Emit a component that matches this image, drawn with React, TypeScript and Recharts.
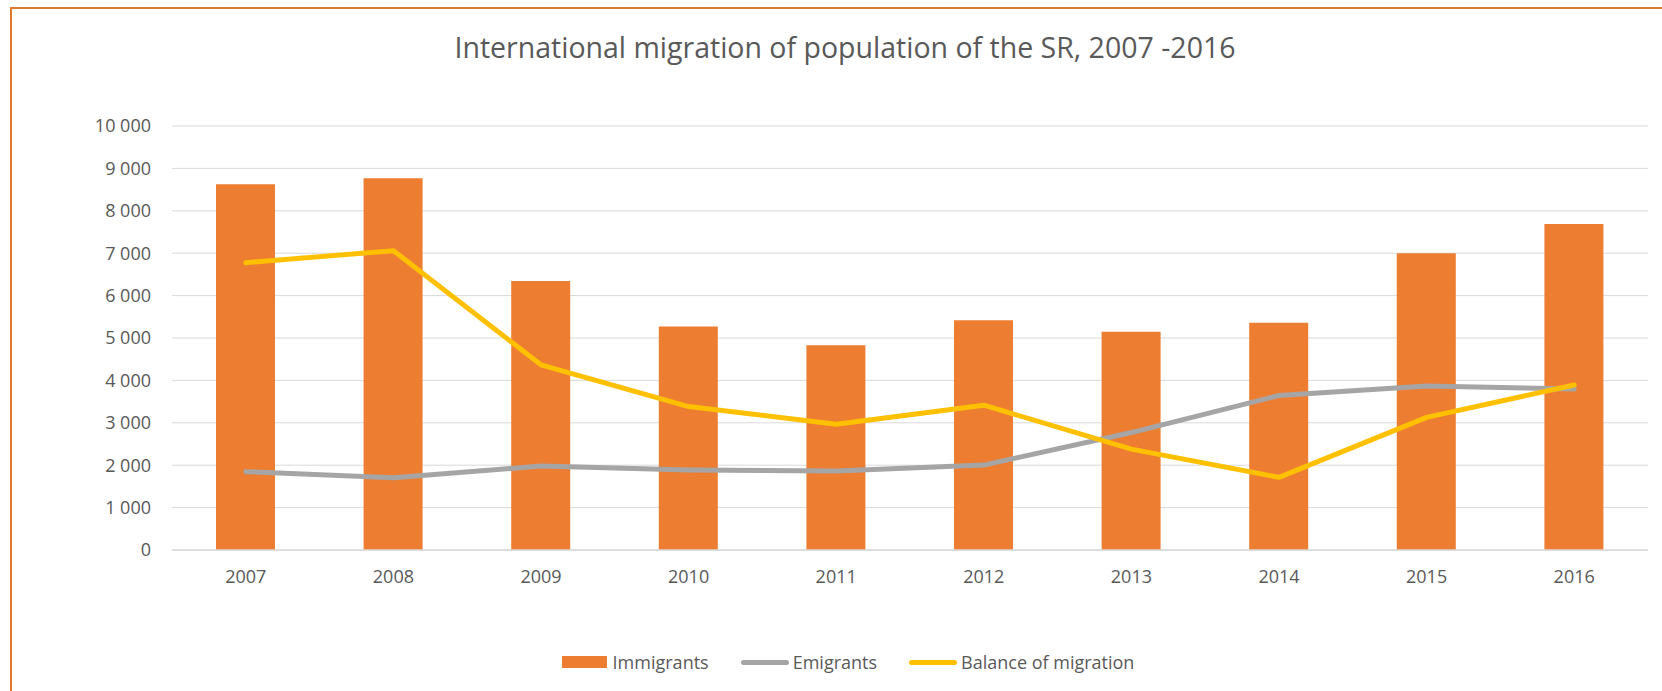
import { ComposedChart, Bar, Line, XAxis, YAxis, CartesianGrid } from 'recharts';

const years = ['2007', '2008', '2009', '2010', '2011', '2012', '2013', '2014', '2015', '2016'];
const immigrants = [8624, 8765, 6346, 5272, 4829, 5419, 5149, 5357, 6997, 7686];
const emigrants = [1848, 1705, 1979, 1889, 1863, 2003, 2770, 3644, 3870, 3795];
const balance = [6776, 7060, 4367, 3383, 2966, 3416, 2379, 1713, 3127, 3891];
const yTicks = [0, 1000, 2000, 3000, 4000, 5000, 6000, 7000, 8000, 9000, 10000];

const TITLE = 'International migration of population of the SR, 2007 -2016';

const series = [
  { key: 'immigrants', name: 'Immigrants', color: '#ED7D31', kind: 'bar' },
  { key: 'emigrants', name: 'Emigrants', color: '#A5A5A5', kind: 'line' },
  { key: 'balance', name: 'Balance of migration', color: '#FFC000', kind: 'line' },
];

const data = years.map((year, i) => ({
  year,
  immigrants: immigrants[i],
  emigrants: emigrants[i],
  balance: balance[i],
}));

const fmt = (v: number) => String(v).replace(/\B(?=(\d{3})+(?!\d))/g, ' ');

const textColor = '#595959';
const gridColor = '#D9D9D9';

function LegendRow() {
  return (
    <div
      style={{
        position: 'absolute',
        top: 653,
        left: 0,
        width: 1696,
        display: 'flex',
        justifyContent: 'center',
        alignItems: 'center',
        fontSize: 18,
        lineHeight: '18px',
        color: textColor,
      }}
    >
      {series.map((s, i) => (
        <div
          key={s.key}
          style={{ display: 'flex', alignItems: 'center', marginLeft: i === 0 ? 0 : 32 }}
        >
          {s.kind === 'bar' ? (
            <span style={{ width: 45, height: 12, background: s.color, marginRight: 6 }} />
          ) : (
            <span
              style={{ width: 48, height: 5, borderRadius: 3, background: s.color, marginRight: 4 }}
            />
          )}
          <span>{s.name}</span>
        </div>
      ))}
    </div>
  );
}

export default function App() {
  return (
    <div
      style={{
        position: 'relative',
        width: 1662,
        height: 691,
        overflow: 'hidden',
        background: '#fff',
        fontFamily: "'Open Sans', sans-serif",
      }}
    >
      <style>{'body{margin:0}'}</style>
      <div
        style={{
          position: 'absolute',
          left: 10,
          top: 7,
          width: 1720,
          height: 740,
          border: '2px solid #E0782F',
          boxSizing: 'border-box',
        }}
      />
      <div
        style={{
          position: 'absolute',
          top: 33,
          left: 0,
          width: 1690,
          textAlign: 'center',
          fontSize: 28.5,
          lineHeight: '28.5px',
          fontWeight: 400,
          color: textColor,
          whiteSpace: 'nowrap',
        }}
      >
        {TITLE}
      </div>
      <div style={{ position: 'absolute', left: 0, top: 0 }}>
        <ComposedChart
          width={1662}
          height={691}
          data={data}
          margin={{ top: 126, right: 14, bottom: 111, left: 0 }}
        >
          <CartesianGrid vertical={false} stroke={gridColor} strokeWidth={1} />
          <XAxis
            dataKey="year"
            height={30}
            tickLine={false}
            axisLine={{ stroke: gridColor, strokeWidth: 1.5 }}
            tick={{ fontSize: 18, fill: textColor }}
            tickMargin={14}
          />
          <YAxis
            width={172}
            domain={[0, 10000]}
            ticks={yTicks}
            tickFormatter={fmt}
            axisLine={false}
            tickLine={false}
            tick={{ fontSize: 18, fill: textColor }}
            tickMargin={15}
          />
          <Bar dataKey="immigrants" name="Immigrants" fill="#ED7D31" barSize={59} isAnimationActive={false} />
          <Line
            type="linear"
            dataKey="emigrants"
            name="Emigrants"
            stroke="#A5A5A5"
            strokeWidth={5}
            strokeLinecap="round"
            strokeLinejoin="round"
            dot={false}
            activeDot={false}
            isAnimationActive={false}
          />
          <Line
            type="linear"
            dataKey="balance"
            name="Balance of migration"
            stroke="#FFC000"
            strokeWidth={5}
            strokeLinecap="round"
            strokeLinejoin="round"
            dot={false}
            activeDot={false}
            isAnimationActive={false}
          />
        </ComposedChart>
      </div>
      <LegendRow />
    </div>
  );
}
